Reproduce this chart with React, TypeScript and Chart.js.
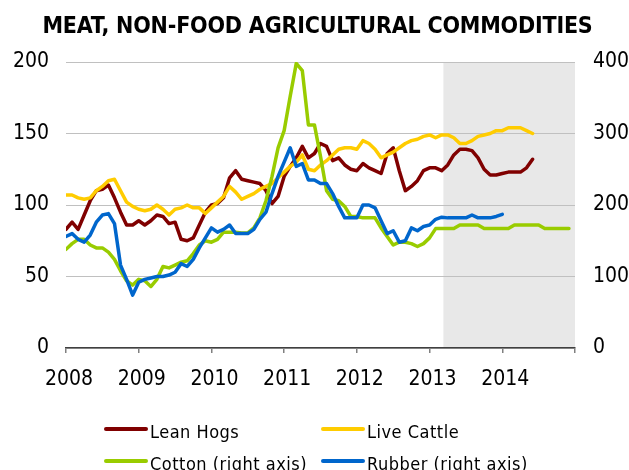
import React, { useEffect, useRef } from "react";
import { Chart, registerables } from "chart.js";

Chart.register(...registerables);

const START_YEAR = 2008;
const YEAR_TICKS = [2008, 2009, 2010, 2011, 2012, 2013, 2014];
const SHADE_START = 2013.19;

// Left axis (monthly from Jan 2008)
const leanHogs = [
  83, 88, 83, 93, 103, 110, 111, 114, 105, 95,
  86, 86, 89, 86, 89, 93, 92, 87, 88, 76,
  75, 77, 86, 95, 100, 101, 105, 119, 124, 118,
  117, 116, 115, 110, 101, 106, 120, 127, 133, 141,
  133, 136, 143, 141, 131, 133, 128, 125, 124, 129,
  126, 124, 122, 136, 140, 124, 110, 113, 117, 124,
  126, 126, 124, 128, 135, 139, 139, 138, 133, 125,
  121, 121, 122, 123, 123, 123, 126, 132,
];
const liveCattle = [
  107, 107, 105, 104, 105, 110, 113, 117, 118, 110,
  102, 99, 97, 96, 97, 100, 97, 93, 97, 98,
  100, 98, 98, 94, 98, 102, 106, 113, 109, 104,
  106, 108, 111, 113, 115, 119, 123, 127, 130, 135,
  125, 124, 128, 131, 135, 139, 140, 140, 139, 145,
  143, 139, 133, 135, 137, 140, 143, 145, 146, 148,
  149, 147, 149, 149, 147, 143, 143, 145, 148, 149,
  150, 152, 152, 154, 154, 154, 152, 150,
];
// Right axis
const cotton = [
  138, 146, 152, 152, 144, 140, 140, 134, 124, 108,
  94, 88, 96, 94, 86, 96, 114, 112, 116, 120,
  122, 132, 144, 150, 148, 152, 162, 162, 162, 161,
  161, 168, 182, 206, 240, 280, 304, 352, 398, 388,
  312, 312, 268, 220, 208, 206, 198, 184, 184, 182,
  182, 182, 168, 156, 144, 148, 148, 146, 142, 146,
  154, 167, 167, 167, 167, 172, 172, 172, 172, 167,
  167, 167, 167, 167, 172, 172, 172, 172, 172, 167,
  167, 167, 167, 167,
];
const rubber = [
  156, 160, 152, 148, 158, 176, 186, 188, 174, 116,
  96, 74, 92, 96, 98, 100, 100, 102, 106, 118,
  114, 124, 140, 154, 168, 162, 166, 172, 160, 160,
  160, 166, 180, 190, 216, 240, 260, 280, 254, 258,
  235, 235, 230, 230, 216, 198, 182, 182, 182, 200,
  200, 196, 178, 160, 164, 148, 150, 168, 164, 170,
  172, 180, 183, 182, 182, 182, 182, 186, 182, 182,
  182, 184, 187,
];

const SERIES = [
  { label: "Lean Hogs", data: leanHogs, color: "#800000", axis: "y", order: 4 },
  { label: "Live Cattle", data: liveCattle, color: "#FFCC00", axis: "y", order: 3 },
  { label: "Cotton (right axis)", data: cotton, color: "#99CC00", axis: "y1", order: 2 },
  { label: "Rubber (right axis)", data: rubber, color: "#0066CC", axis: "y1", order: 1 },
];

const FONT_FAMILY = '"DejaVu Sans Condensed", "DejaVu Sans", sans-serif';
const tickFont = { family: FONT_FAMILY, size: 21 };

const shadePlugin = {
  id: "shade",
  beforeDraw(chart: any) {
    const { ctx, chartArea, scales } = chart;
    const x0 = scales.x.getPixelForValue(SHADE_START);
    ctx.save();
    ctx.fillStyle = "#e8e8e8";
    ctx.fillRect(x0, chartArea.top, chartArea.right - x0, chartArea.bottom - chartArea.top);
    ctx.restore();
  },
};

export default function App() {
  const ref = useRef<HTMLCanvasElement>(null);
  useEffect(() => {
    if (!ref.current) return;
    const chart = new Chart(ref.current, {
      type: "line",
      data: {
        datasets: SERIES.map((s) => ({
          label: s.label,
          data: s.data.map((v, i) => ({ x: START_YEAR + i / 12, y: v })),
          borderColor: s.color,
          backgroundColor: s.color,
          borderWidth: 3.5,
          pointRadius: 0,
          tension: 0,
          yAxisID: s.axis,
          order: s.order,
          borderJoinStyle: "round" as const,
          borderCapStyle: "round" as const,
        })),
      },
      options: {
        responsive: false,
        animation: false,
        layout: { padding: { top: 62, bottom: 82, left: 0, right: 0 } },
        plugins: {
          legend: { display: false },
          title: { display: false },
          tooltip: { enabled: false },
        },
        scales: {
          x: {
            type: "linear",
            min: 2008,
            max: 2015,
            afterBuildTicks: (s: any) => {
              s.ticks = [...YEAR_TICKS, 2015].map((v) => ({ value: v }));
            },
            ticks: {
              autoSkip: false,
              maxRotation: 0,
              font: tickFont,
              color: "#000",
              padding: 14,
              labelOffset: 3,
              callback: (v: any) => (YEAR_TICKS.includes(Number(v)) ? String(v) : ""),
            },
            grid: { drawOnChartArea: false, drawTicks: true, tickLength: 5, color: "#808080", lineWidth: 1.5 },
            border: { display: true, color: "#404040", width: 1.5 },
            afterFit: (s: any) => {
              s.height = 40;
            },
          },
          y: {
            position: "left",
            min: 0,
            max: 200,
            ticks: { stepSize: 50, padding: 17, font: tickFont, color: "#000" },
            grid: { color: "#c0c0c0", lineWidth: 1, drawTicks: false },
            border: { display: false },
            afterFit: (s: any) => {
              s.width = 66;
            },
          },
          y1: {
            position: "right",
            min: 0,
            max: 400,
            ticks: { stepSize: 100, padding: 18, font: tickFont, color: "#000" },
            grid: { display: false, drawTicks: false },
            border: { display: false },
            afterFit: (s: any) => {
              s.width = 54;
            },
          },
        },
      } as any,
      plugins: [shadePlugin],
    });
    return () => chart.destroy();
  }, []);

  const legendItem = (i: number, left: number, top: number) => (
    <div key={i} style={{ position: "absolute", left, top, height: 20 }}>
      <div
        style={{
          position: "absolute",
          left: 0,
          top: 2,
          width: 44,
          height: 4,
          borderRadius: 2,
          background: SERIES[i].color,
        }}
      />
      <span
        style={{
          position: "absolute",
          left: 46,
          top: -2,
          whiteSpace: "nowrap",
          fontFamily: FONT_FAMILY,
          fontSize: 18,
          lineHeight: "18px",
          letterSpacing: 0.5,
          color: "#000",
        }}
      >
        {SERIES[i].label}
      </span>
    </div>
  );

  return (
    <div
      style={{
        position: "fixed",
        left: 0,
        top: 0,
        width: 629,
        height: 470,
        background: "#fff",
        overflow: "hidden",
      }}
    >
      <canvas ref={ref} width={629} height={470} style={{ position: "absolute", left: 0, top: 0 }} />
      <div
        style={{
          position: "absolute",
          left: 3,
          top: 14,
          width: 629,
          textAlign: "center",
          fontFamily: FONT_FAMILY,
          fontWeight: "bold",
          fontSize: 23,
          lineHeight: "23px",
          letterSpacing: -0.2,
          color: "#000",
          whiteSpace: "nowrap",
        }}
      >
        MEAT, NON-FOOD AGRICULTURAL COMMODITIES
      </div>
      {legendItem(0, 104, 425)}
      {legendItem(1, 321, 425)}
      {legendItem(2, 104, 457)}
      {legendItem(3, 321, 457)}
    </div>
  );
}
